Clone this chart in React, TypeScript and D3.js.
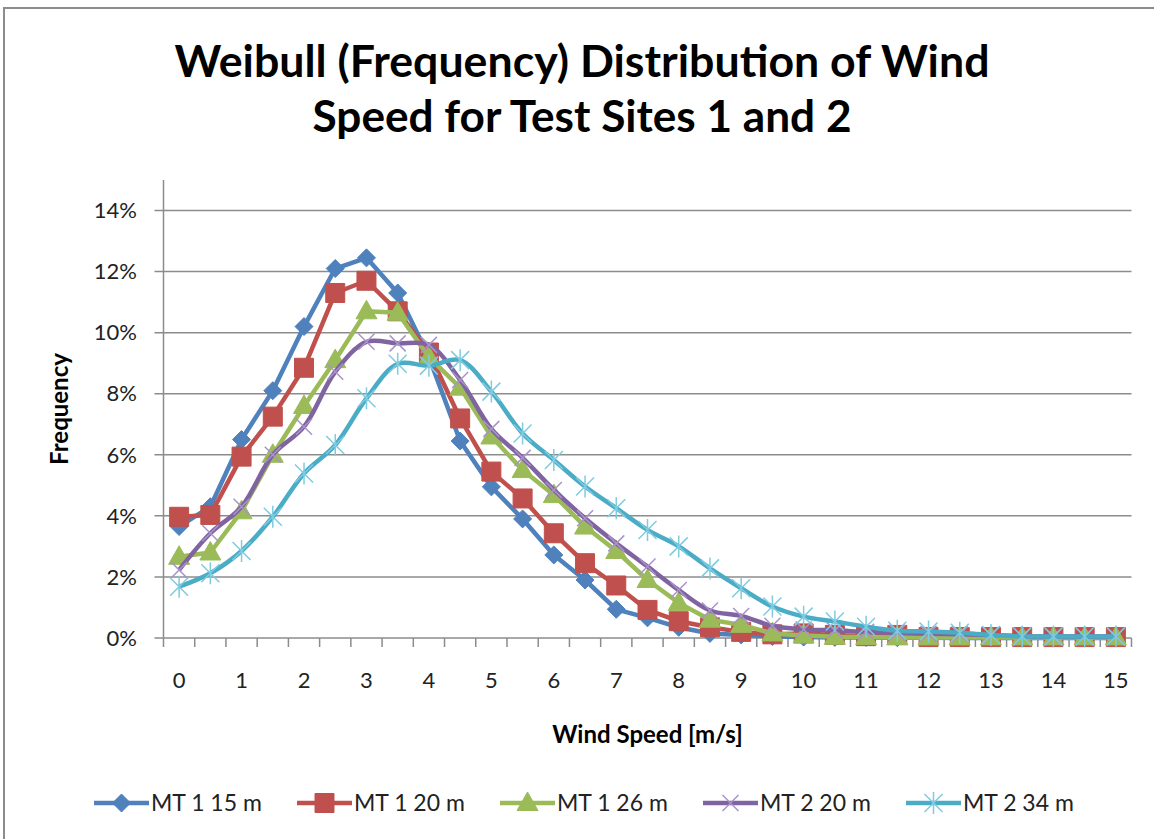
import React, { useEffect, useRef } from 'react';
import * as d3 from 'd3';

// Wind speed categories (m/s)
const speeds = [
  '0', '0.5', '1', '1.5', '2', '2.5', '3', '3.5', '4', '4.5', '5', '5.5', '6', '6.5', '7', '7.5',
  '8', '8.5', '9', '9.5', '10', '10.5', '11', '11.5', '12', '12.5', '13', '13.5', '14', '14.5', '15'
];

// Frequency values in percent
const mt1_15 = [3.65, 4.3, 6.5, 8.1, 10.2, 12.1, 12.45, 11.3, 9.2, 6.45, 4.95, 3.9, 2.72, 1.9, 0.94, 0.66, 0.35, 0.15, 0.1, 0.05, 0.03, 0.02, 0.02, 0.01, 0.01, 0, 0, 0, 0, 0, 0];
const mt1_20 = [3.97, 4.03, 5.94, 7.25, 8.85, 11.3, 11.7, 10.7, 9.35, 7.19, 5.45, 4.57, 3.43, 2.45, 1.72, 0.92, 0.55, 0.35, 0.2, 0.12, 0.15, 0.1, 0.06, 0.1, 0.03, 0.03, 0.03, 0.03, 0.03, 0.03, 0.03];
const mt1_26 = [2.66, 2.8, 4.15, 6.0, 7.6, 9.1, 10.7, 10.65, 9.2, 8.2, 6.6, 5.5, 4.68, 3.65, 2.85, 1.9, 1.15, 0.6, 0.43, 0.15, 0.08, 0.04, 0.03, 0.02, 0.02, 0.02, 0.02, 0.02, 0.02, 0.02, 0.02];
const mt2_20 = [2.23, 3.43, 4.3, 6.0, 6.92, 8.72, 9.7, 9.65, 9.6, 8.45, 6.85, 5.9, 4.85, 3.92, 3.1, 2.34, 1.57, 0.9, 0.72, 0.4, 0.28, 0.25, 0.2, 0.17, 0.14, 0.12, 0.1, 0.06, 0.05, 0.05, 0.05];
const mt2_34 = [1.68, 2.12, 2.85, 3.97, 5.39, 6.32, 7.85, 8.98, 8.92, 9.1, 8.07, 6.7, 5.83, 4.96, 4.25, 3.54, 3.0, 2.28, 1.63, 1.03, 0.7, 0.54, 0.37, 0.24, 0.21, 0.17, 0.1, 0.05, 0.05, 0.05, 0.05];

const seriesNames = ['MT 1 15 m', 'MT 1 20 m', 'MT 1 26 m', 'MT 2 20 m', 'MT 2 34 m'];
const seriesValues = [mt1_15, mt1_20, mt1_26, mt2_20, mt2_34];
const yTicks = [0, 0.02, 0.04, 0.06, 0.08, 0.1, 0.12, 0.14];

const colors = ['#4F81BD', '#C0504D', '#9BBB59', '#8064A2', '#4BACC6'];
const markerStroke = ['#4F81BD', '#C0504D', '#9BBB59', '#A993C9', '#7FCBE0'];
const markerTypes = ['diamond', 'square', 'triangle', 'x', 'star'];
const smooth = [false, false, false, true, true];

const FONT = 'Lato, "Open Sans", sans-serif';

const markerPath = (type: string) => {
  switch (type) {
    case 'diamond': return 'M0,-9L9,0L0,9L-9,0Z';
    case 'square': return 'M-9.5,-9.5H9.5V9.5H-9.5Z';
    case 'triangle': return 'M0,-11L10.5,7.5L-10.5,7.5Z';
    case 'x': return 'M-8,-8L8,8M-8,8L8,-8';
    default: return 'M-9,-9L9,9M-9,9L9,-9M0,-11V11';
  }
};

const App = () => {
  const svgRef = useRef<SVGSVGElement>(null);
  const width = 1154;
  const height = 839;
  const plot = { left: 163.5, right: 1131.5, top: 180, bottom: 638 };

  useEffect(() => {
    const svg = d3.select(svgRef.current);
    svg.selectAll('*').remove();

    // chart frame
    svg.append('rect')
      .attr('x', 4).attr('y', 8)
      .attr('width', width + 20).attr('height', height + 20)
      .attr('fill', '#fff')
      .attr('stroke', '#8c8c8c')
      .attr('stroke-width', 2);

    const x = d3.scaleBand<string>()
      .domain(speeds)
      .range([plot.left, plot.right])
      .padding(0);
    const cx = (c: string) => (x(c) as number) + x.bandwidth() / 2;

    const y = d3.scaleLinear()
      .domain([0, 0.15])
      .range([plot.bottom, plot.top]);

    // title (two lines, stretched to the original widths)
    const titleLines = [
      { text: 'Weibull (Frequency) Distribution of Wind', y: 77, len: 815 },
      { text: 'Speed for Test Sites 1 and 2', y: 132, len: 539 }
    ];
    titleLines.forEach(t => {
      svg.append('text')
        .attr('x', 582).attr('y', t.y)
        .attr('text-anchor', 'middle')
        .attr('font-family', FONT)
        .attr('font-weight', 'bold')
        .attr('font-size', 44)
        .attr('fill', '#000')
        .attr('textLength', t.len)
        .attr('lengthAdjust', 'spacingAndGlyphs')
        .text(t.text);
    });

    // gridlines
    svg.append('g')
      .selectAll('line')
      .data(yTicks)
      .join('line')
      .attr('x1', plot.left - 9)
      .attr('x2', plot.right)
      .attr('y1', d => y(d))
      .attr('y2', d => y(d))
      .attr('stroke', '#8c8c8c')
      .attr('stroke-width', 1.5);

    // y axis line
    svg.append('line')
      .attr('x1', plot.left).attr('x2', plot.left)
      .attr('y1', plot.top).attr('y2', plot.bottom)
      .attr('stroke', '#8c8c8c')
      .attr('stroke-width', 1.5);

    // y labels
    svg.append('g')
      .selectAll('text')
      .data(yTicks)
      .join('text')
      .attr('x', 137)
      .attr('y', d => y(d))
      .attr('dy', '0.35em')
      .attr('text-anchor', 'end')
      .attr('font-family', FONT)
      .attr('font-size', 22)
      .attr('fill', '#222')
      .text(d => d3.format('.0%')(d));

    // x ticks at category boundaries
    const bounds = speeds.map(s => x(s) as number).concat([plot.right]);
    svg.append('g')
      .selectAll('line')
      .data(bounds)
      .join('line')
      .attr('x1', d => d).attr('x2', d => d)
      .attr('y1', plot.bottom).attr('y2', plot.bottom + 9)
      .attr('stroke', '#8c8c8c')
      .attr('stroke-width', 1.5);

    // x labels (every other category)
    svg.append('g')
      .selectAll('text')
      .data(speeds.filter((_, i) => i % 2 === 0))
      .join('text')
      .attr('x', d => cx(d))
      .attr('y', 680)
      .attr('dy', '0.35em')
      .attr('text-anchor', 'middle')
      .attr('font-family', FONT)
      .attr('font-size', 22)
      .attr('fill', '#222')
      .text(d => d);

    // axis titles
    svg.append('text')
      .attr('x', (plot.left + plot.right) / 2)
      .attr('y', 735)
      .attr('dy', '0.35em')
      .attr('text-anchor', 'middle')
      .attr('font-family', FONT)
      .attr('font-weight', 'bold')
      .attr('font-size', 24)
      .text('Wind Speed [m/s]');

    svg.append('text')
      .attr('transform', `translate(60,${(plot.top + plot.bottom) / 2}) rotate(-90)`)
      .attr('dy', '0.35em')
      .attr('text-anchor', 'middle')
      .attr('font-family', FONT)
      .attr('font-weight', 'bold')
      .attr('font-size', 24)
      .text('Frequency');

    // series
    seriesValues.forEach((vals, si) => {
      const pts: [number, number][] = vals.map((v, i) => [cx(speeds[i]), y(v / 100)]);
      const line = d3.line()
        .curve(smooth[si] ? d3.curveCatmullRom.alpha(0.5) : d3.curveLinear);
      const g = svg.append('g');
      g.append('path')
        .attr('d', line(pts))
        .attr('fill', 'none')
        .attr('stroke', colors[si])
        .attr('stroke-width', 4.5)
        .attr('stroke-linejoin', 'round');
      const filled = si < 3;
      g.selectAll('path.mk')
        .data(pts)
        .join('path')
        .attr('class', 'mk')
        .attr('transform', d => `translate(${d[0]},${d[1]})`)
        .attr('d', markerPath(markerTypes[si]))
        .attr('fill', filled ? colors[si] : 'none')
        .attr('stroke', markerStroke[si])
        .attr('stroke-width', filled ? 1 : 1.5);
    });

    // legend
    const legend = svg.append('g');
    seriesNames.forEach((name, si) => {
      const lx = 94 + si * 203;
      const ly = 803;
      const item = legend.append('g');
      item.append('line')
        .attr('x1', lx).attr('x2', lx + 55)
        .attr('y1', ly).attr('y2', ly)
        .attr('stroke', colors[si])
        .attr('stroke-width', 4.5);
      const filled = si < 3;
      item.append('path')
        .attr('transform', `translate(${lx + 27.5},${ly})`)
        .attr('d', markerPath(markerTypes[si]))
        .attr('fill', filled ? colors[si] : 'none')
        .attr('stroke', markerStroke[si])
        .attr('stroke-width', filled ? 1 : 1.5);
      item.append('text')
        .attr('x', lx + 57)
        .attr('y', ly)
        .attr('dy', '0.35em')
        .attr('font-family', FONT)
        .attr('font-size', 23)
        .attr('fill', '#222')
        .text(name);
    });
  }, []);

  return (
    <div style={{ position: 'absolute', left: 0, top: 0, width, height, overflow: 'hidden', background: '#fff' }}>
      <svg ref={svgRef} width={width} height={height} />
    </div>
  );
};

export default App;
